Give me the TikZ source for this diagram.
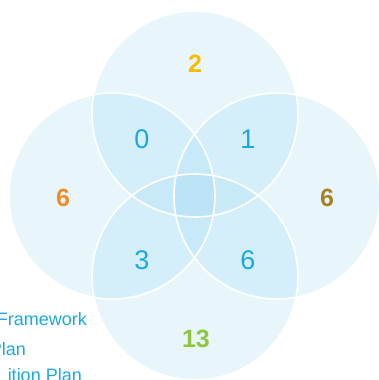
\documentclass[tikz,border=0pt]{standalone}
\usepackage{fontspec}
\setmainfont{Liberation Sans}
\definecolor{circfill}{RGB}{149,213,241}
\definecolor{numblue}{RGB}{27,169,225}
\definecolor{numyellow}{RGB}{247,188,0}
\definecolor{numorange}{RGB}{242,140,40}
\definecolor{numolive}{RGB}{168,129,37}
\definecolor{numgreen}{RGB}{141,198,63}
\tikzset{
    inner/.style={inner sep=0, text=numblue, font=\fontsize{27}{30}\selectfont},
    outer/.style={inner sep=0, font=\fontsize{25}{28}\selectfont\bfseries},
    legend/.style={inner sep=0, text=numblue, font=\fontsize{18}{21}\selectfont}
}
\begin{document}
\begin{tikzpicture}[x=1pt,y=-1pt]
            \def \r {103pt};
            \useasboundingbox ( 0, 0 ) rectangle ( 379, 380 );
            \clip ( 0, 0 ) rectangle ( 379, 380 );

            % круги
            \foreach \cx/\cy in {195/114, 112/196, 277/196, 195/277}
                \fill [circfill, opacity=0.22] ( \cx, \cy ) circle ( \r );
            \foreach \cx/\cy in {195/114, 112/196, 277/196, 195/277}
                \draw [white, line width=1.6pt] ( \cx, \cy ) circle ( \r );

            % числа в пересечениях
            \node [inner] (topleft) at ( 142, 139 ) {0};
            \node [inner] (topright) at ( 248, 139 ) {1};
            \node [inner] (botleft) at ( 142, 260 ) {3};
            \node [inner] (botright) at ( 248, 260 ) {6};

            % числа в кругах
            \node [outer, text=numyellow] (top) at ( 195, 64 ) {2};
            \node [outer, text=numorange] (left) at ( 63, 198 ) {6};
            \node [outer, text=numolive] (right) at ( 327, 198 ) {6};
            \node [outer, text=numgreen] (bottom) at ( 196, 339 ) {13};

            % легенда
            \node [legend, anchor=base east] (leg1) at ( 87, 325 ) {Framework};
            \node [legend, anchor=base east] (leg2) at ( 26, 355 ) {Plan};
            \node [legend, anchor=base east] (leg3) at ( 82, 381 ) {ition Plan};
        \end{tikzpicture}
\end{document}
